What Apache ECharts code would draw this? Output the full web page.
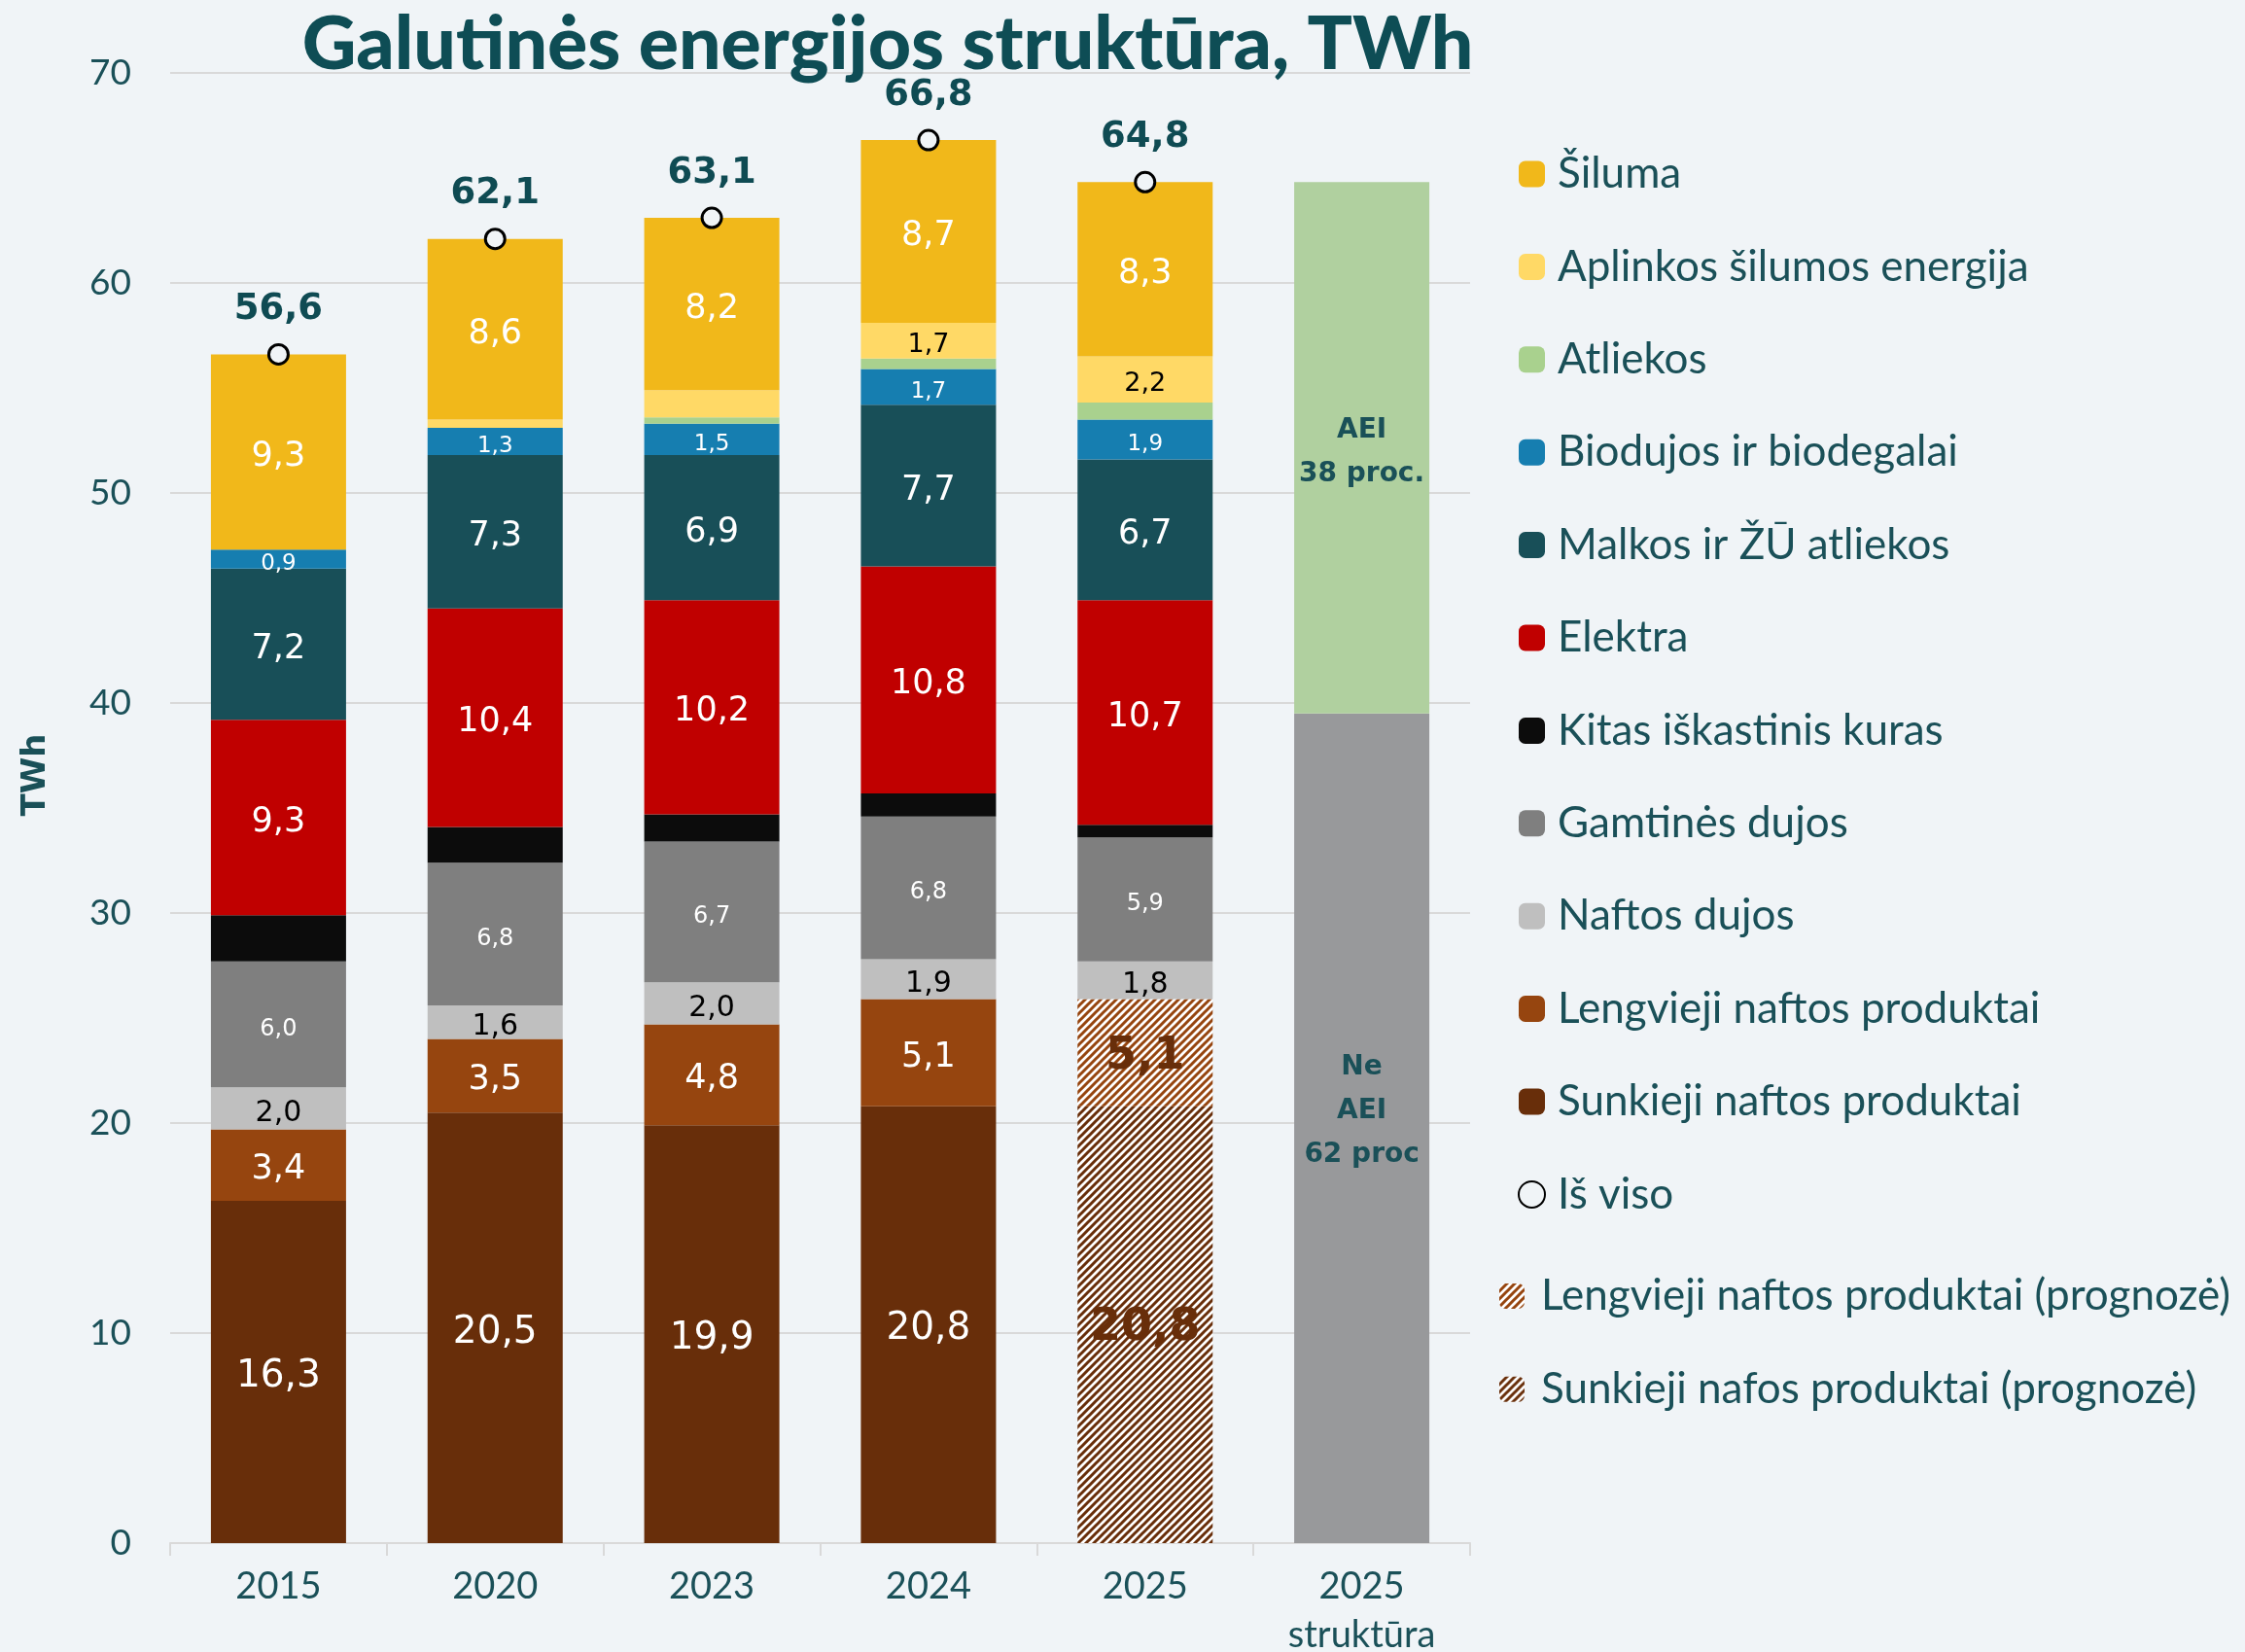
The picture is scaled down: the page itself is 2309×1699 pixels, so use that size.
<!DOCTYPE html>
<html>
<head>
<meta charset="utf-8">
<title>Galutinės energijos struktūra</title>
<script src="https://cdn.jsdelivr.net/npm/echarts@6.0.0/dist/echarts.min.js"></script>
<style>
  html, body { margin: 0; padding: 0; background: #f0f4f7; }
  #chart { width: 2309px; height: 1699px; }
</style>
</head>
<body>
<div id="chart"></div>
<script>
// duomenys, TWh
const categories = ["2015", "2020", "2023", "2024", "2025", "2025\nstruktūra"];

const siluma = [9.3, 8.6, 8.2, 8.7, 8.3, "-"];
const aplinkos = ["-", 0.4, 1.3, 1.7, 2.2, "-"];
const atliekos = ["-", "-", 0.3, 0.5, 0.8, "-"];
const biodujos = [0.9, 1.3, 1.5, 1.7, 1.9, "-"];
const malkos = [7.2, 7.3, 6.9, 7.7, 6.7, "-"];
const elektra = [9.3, 10.4, 10.2, 10.8, 10.7, "-"];
const kitas = [2.2, 1.7, 1.3, 1.1, 0.6, "-"];
const gamtines = [6.0, 6.8, 6.7, 6.8, 5.9, "-"];
const naftosDujos = [2.0, 1.6, 2.0, 1.9, 1.8, "-"];
const lengvieji = [3.4, 3.5, 4.8, 5.1, "-", "-"];
const sunkieji = [16.3, 20.5, 19.9, 20.8, "-", "-"];
const lengviejiProg = ["-", "-", "-", "-", 5.1, "-"];
const sunkiejiProg = ["-", "-", "-", "-", 20.8, "-"];
const isViso = [56.6, 62.1, 63.1, 66.8, 64.8, "-"];

const neAei = ["-", "-", "-", "-", "-", 39.5];
const aei = ["-", "-", "-", "-", "-", 25.3];
const neAeiText = "Ne\nAEI\n62 proc";
const aeiText = "AEI\n38 proc.";

const teal = "#1a5058";
const labelFont = "DejaVu Sans";
const textFont = "Lato";

function fmt(v) {
  return Number(v).toFixed(1).replace(".", ",");
}

// įstrižas brūkšniavimas prognozei
function hatch(color) {
  let c = document.createElement("canvas");
  c.width = 8;
  c.height = 8;
  let ctx = c.getContext("2d");
  ctx.fillStyle = "#ffffff";
  ctx.fillRect(0, 0, 8, 8);
  ctx.strokeStyle = color;
  ctx.lineWidth = 3;
  ctx.beginPath();
  ctx.moveTo(-2, 10); ctx.lineTo(10, -2);
  ctx.moveTo(-2, 2); ctx.lineTo(2, -2);
  ctx.moveTo(6, 10); ctx.lineTo(10, 6);
  ctx.stroke();
  return { image: c, repeat: "repeat" };
}

function lbl(color, size, min) {
  return {
    show: true,
    position: "inside",
    offset: [0, 5],
    color: color,
    fontSize: size,
    fontFamily: labelFont,
    formatter: function (p) {
      if (min && p.value < min) return "";
      return fmt(p.value);
    }
  };
}

function bar(name, data, color, label) {
  return {
    name: name,
    type: "bar",
    stack: "total",
    data: data,
    barWidth: 139,
    itemStyle: { color: color },
    label: label || { show: false },
    emphasis: { disabled: true }
  };
}

let chart = echarts.init(document.getElementById("chart"));

let boldBrown = {
  show: true,
  position: "inside",
  offset: [0, 4],
  color: "#682e0a",
  fontSize: 46,
  fontWeight: "bold",
  fontFamily: labelFont,
  formatter: function (p) { return fmt(p.value); }
};

let strukturaLabel = {
  show: true,
  position: "inside",
  color: teal,
  fontSize: 28,
  lineHeight: 45,
  fontWeight: "bold",
  fontFamily: labelFont
};

let series = [
  bar("Sunkieji naftos produktai", sunkieji, "#682e0a", lbl("#fff", 39)),
  bar("Sunkieji nafos produktai (prognozė)", sunkiejiProg, hatch("#682e0a"), boldBrown),
  bar("Lengvieji naftos produktai", lengvieji, "#96450f", lbl("#fff", 35)),
  bar("Lengvieji naftos produktai (prognozė)", lengviejiProg, hatch("#96450f"), boldBrown),
  bar("Naftos dujos", naftosDujos, "#bfbfbf", lbl("#000", 30)),
  bar("Gamtinės dujos", gamtines, "#7f7f7f", lbl("#fff", 24)),
  bar("Kitas iškastinis kuras", kitas, "#0c0c0c"),
  bar("Elektra", elektra, "#c00000", lbl("#fff", 35)),
  bar("Malkos ir ŽŪ atliekos", malkos, "#184f58", lbl("#fff", 35)),
  bar("Biodujos ir biodegalai", biodujos, "#167eb0", lbl("#fff", 23)),
  bar("Atliekos", atliekos, "#a9d18e"),
  bar("Aplinkos šilumos energija", aplinkos, "#ffd966", lbl("#000", 27, 1.5)),
  bar("Šiluma", siluma, "#f1b81a", lbl("#fff", 35)),
  bar("Ne AEI", neAei, "#98999b", Object.assign({}, strukturaLabel, { formatter: neAeiText, offset: [0, -18] })),
  bar("AEI", aei, "#b0d09f", Object.assign({}, strukturaLabel, { formatter: aeiText, offset: [0, 5] })),
  {
    name: "Iš viso",
    type: "scatter",
    data: isViso,
    symbol: "circle",
    symbolSize: 20,
    z: 10,
    itemStyle: { color: "#f0f4f7", borderColor: "#000", borderWidth: 3, opacity: 1 },
    label: {
      show: true,
      position: "top",
      distance: 16,
      color: "#0f4b53",
      fontSize: 37,
      fontWeight: "bold",
      fontFamily: labelFont,
      formatter: function (p) { return fmt(p.value); }
    },
    emphasis: { disabled: true }
  }
];

let option = {
  backgroundColor: "#f0f4f7",
  animation: false,
  title: {
    text: "Galutinės energijos struktūra, TWh",
    left: 908,
    top: -2,
    textAlign: "center",
    textStyle: {
      color: "#0e4d55",
      fontSize: 77,
      lineHeight: 86,
      fontWeight: 900,
      fontFamily: textFont
    }
  },
  legend: [
    {
      orient: "vertical",
      left: 1561,
      top: 155,
      padding: 0,
      itemWidth: 27,
      itemHeight: 27,
      itemGap: 47.4,
      textStyle: { color: teal, fontSize: 44, lineHeight: 48, fontFamily: textFont, padding: [0, 0, 0, 8] },
      data: [
        "Šiluma",
        "Aplinkos šilumos energija",
        "Atliekos",
        "Biodujos ir biodegalai",
        "Malkos ir ŽŪ atliekos",
        "Elektra",
        "Kitas iškastinis kuras",
        "Gamtinės dujos",
        "Naftos dujos",
        "Lengvieji naftos produktai",
        "Sunkieji naftos produktai",
        { name: "Iš viso", icon: "circle" }
      ]
    },
    {
      orient: "vertical",
      left: 1542,
      top: 1309,
      padding: 0,
      itemWidth: 26,
      itemHeight: 26,
      itemGap: 47.8,
      textStyle: { color: teal, fontSize: 44, lineHeight: 48, fontFamily: textFont, padding: [0, 0, 0, 12] },
      data: [
        "Lengvieji naftos produktai (prognozė)",
        "Sunkieji nafos produktai (prognozė)"
      ]
    }
  ],
  graphic: [
    {
      type: "text",
      x: 37,
      y: 797,
      rotation: Math.PI / 2,
      style: {
        text: "TWh",
        fill: teal,
        font: "bold 34px 'DejaVu Sans'",
        align: "center",
        verticalAlign: "middle"
      }
    }
  ],
  grid: {
    left: 175,
    right: 797,
    top: 75,
    bottom: 112,
    outerBoundsMode: "none"
  },
  xAxis: {
    type: "category",
    data: categories,
    axisLine: { lineStyle: { color: "#d9d9d9", width: 2 } },
    axisTick: { show: true, length: 13, lineStyle: { color: "#d9d9d9", width: 2 } },
    axisLabel: {
      color: teal,
      fontSize: 38,
      lineHeight: 50,
      margin: 20,
      fontFamily: textFont
    }
  },
  yAxis: {
    type: "value",
    min: 0,
    max: 70,
    interval: 10,
    axisLine: { show: false },
    axisTick: { show: false },
    splitLine: { lineStyle: { color: "#d9d9d9", width: 2 } },
    axisLabel: {
      color: teal,
      fontSize: 37,
      margin: 40,
      fontFamily: textFont
    }
  },
  series: series
};

chart.setOption(option);
</script>
</body>
</html>
